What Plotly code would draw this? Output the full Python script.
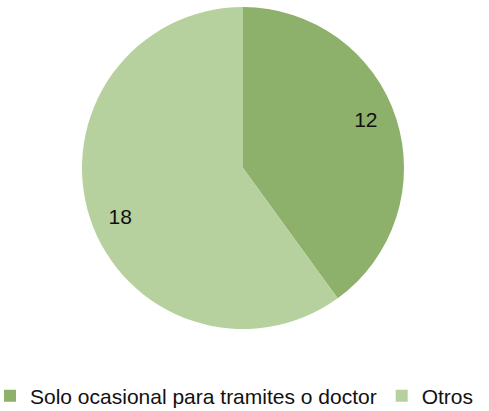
import plotly.graph_objects as go

categories = ["Solo ocasional para tramites o doctor", "Otros"]
values = [12, 18]
colors = ["#8DB06A", "#B6D19E"]

W, H = 489, 411
MB = 30                      # bottom margin reserved for the legend
PH = H - MB                  # plot-area height
cx, cy, r = 243, 168, 161
dom = dict(x=[(cx - r) / W, (cx + r) / W], y=[(PH - cy - r) / PH, (PH - cy + r) / PH])
font_family = "Liberation Sans, Arial, sans-serif"

# full pie (colour fill)
base = go.Pie(
    labels=categories, values=values, sort=False,
    direction="clockwise", rotation=0,
    marker=dict(colors=colors, line=dict(width=0)),
    textinfo="none", hoverinfo="label+value",
    domain=dom, showlegend=True,
)
# transparent ring overlay used only to place the value labels further out
ring = go.Pie(
    labels=categories, values=values, sort=False,
    direction="clockwise", rotation=-3.5, hole=0.64,
    marker=dict(colors=["rgba(0,0,0,0)", "rgba(0,0,0,0)"], line=dict(width=0)),
    textinfo="value", textposition="inside",
    insidetextorientation="horizontal",
    textfont=dict(family=font_family, size=21, color="#111111"),
    hoverinfo="skip",
    domain=dom, showlegend=False,
)

fig = go.Figure([base, ring])

fig.update_layout(
    width=W, height=H,
    margin=dict(l=0, r=0, t=0, b=MB, autoexpand=False),
    paper_bgcolor="white",
    plot_bgcolor="white",
    showlegend=True,
    legend=dict(
        orientation="h",
        x=-10 / W, xanchor="left",
        y=(PH - 396) / PH, yanchor="middle",
        font=dict(family=font_family, size=21, color="#111111"),
        itemwidth=30,
        tracegroupgap=0,
    ),
)

fig.write_html("out.html", config={"displayModeBar": False},
               post_script="document.body.style.margin='0';")
